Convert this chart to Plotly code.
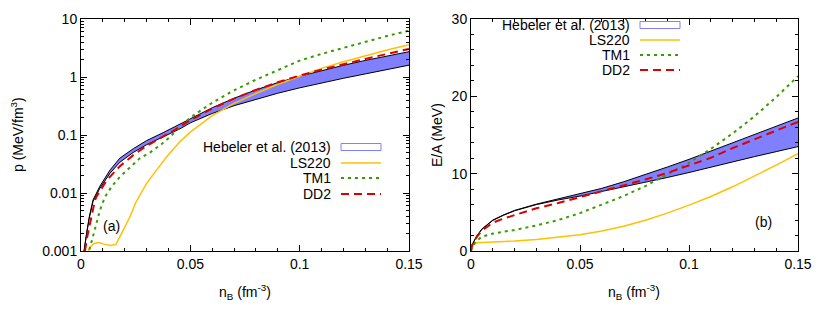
import plotly.graph_objects as go

# ---------------- data: panel (a) pressure ----------------
hb_n_p = [0.0008, 0.0014, 0.0026, 0.0038, 0.0055, 0.0087, 0.0133, 0.0178, 0.0239, 0.030, 0.0376,
          0.0453, 0.05, 0.06, 0.07, 0.08, 0.09, 0.10, 0.11, 0.12, 0.13, 0.14, 0.15]
hb_p_upper = [0.0005, 0.001, 0.0021, 0.0039, 0.0076, 0.0132, 0.025, 0.040, 0.058, 0.080, 0.110,
              0.152, 0.19, 0.295, 0.43, 0.60, 0.80, 1.03, 1.29, 1.59, 1.93, 2.31, 2.73]
hb_p_lower = [0.0005, 0.001, 0.002, 0.0037, 0.0071, 0.0122, 0.022, 0.034, 0.050, 0.068, 0.093,
              0.128, 0.162, 0.235, 0.32, 0.415, 0.525, 0.65, 0.79, 0.95, 1.13, 1.35, 1.6]

ls_n_p = [0.0025, 0.004, 0.006, 0.008, 0.011, 0.0135, 0.016, 0.018, 0.020, 0.0224, 0.025, 0.0278,
          0.030, 0.0346, 0.0392, 0.0453, 0.05, 0.06, 0.07, 0.08, 0.09, 0.10, 0.11, 0.12, 0.13, 0.14, 0.15]
ls_p = [0.0008, 0.00115, 0.00135, 0.0014, 0.0013, 0.00125, 0.0013, 0.0018, 0.0026, 0.0039, 0.0068,
        0.0105, 0.0147, 0.025, 0.042, 0.077, 0.112, 0.215, 0.35, 0.52, 0.75, 1.03, 1.41, 1.83, 2.32, 2.91, 3.6]

tm_n_p = [0.003, 0.0045, 0.0056, 0.0072, 0.0087, 0.011, 0.014, 0.0178, 0.0224, 0.027, 0.0316,
          0.0369, 0.041, 0.045, 0.05, 0.06, 0.07, 0.08, 0.09, 0.10, 0.11, 0.12, 0.13, 0.14, 0.15]
tm_p = [0.0008, 0.0013, 0.0018, 0.003, 0.0051, 0.0086, 0.0129, 0.019, 0.028, 0.040, 0.050,
        0.070, 0.095, 0.135, 0.20, 0.36, 0.59, 0.90, 1.31, 1.92, 2.5, 3.2, 4.05, 5.1, 6.3]

dd_n_p = [0.0012, 0.0018, 0.0029, 0.0041, 0.0053, 0.0064, 0.0072, 0.0117, 0.0178, 0.0239, 0.030,
          0.0361, 0.0422, 0.05, 0.06, 0.07, 0.08, 0.09, 0.10, 0.11, 0.12, 0.13, 0.14, 0.15]
dd_p = [0.0006, 0.001, 0.0018, 0.003, 0.0051, 0.0075, 0.0088, 0.0165, 0.029, 0.045, 0.065,
        0.088, 0.118, 0.18, 0.285, 0.425, 0.60, 0.81, 1.06, 1.34, 1.67, 2.05, 2.5, 3.05]

# ---------------- data: panel (b) energy per particle ----------------
ea_n = [0, 0.0005, 0.0017, 0.0025, 0.005, 0.0075, 0.01, 0.015, 0.02, 0.03, 0.04, 0.05, 0.06,
        0.07, 0.08, 0.09, 0.10, 0.11, 0.12, 0.13, 0.14, 0.15]
hb_e_upper = [0, 0.8, 1.45, 1.9, 2.85, 3.48, 4.0, 4.68, 5.25, 6.06, 6.73, 7.35, 8.1,
              8.95, 9.85, 10.85, 11.85, 12.9, 13.95, 15.0, 16.1, 17.2]
hb_e_lower = [0, 0.78, 1.42, 1.86, 2.8, 3.43, 3.95, 4.63, 5.2, 6.0, 6.6, 7.1, 7.7,
              8.25, 8.85, 9.5, 10.15, 10.85, 11.5, 12.2, 12.85, 13.5]
ls_e = [0, 0.5, 1.0, 1.06, 1.1, 1.13, 1.16, 1.22, 1.29, 1.5, 1.77, 2.1, 2.6,
        3.2, 3.98, 4.9, 5.93, 7.05, 8.3, 9.65, 11.1, 12.6]
tm_e = [0, 0.5, 1.0, 1.3, 1.85, 2.08, 2.25, 2.5, 2.72, 3.3, 4.0, 4.9, 5.95,
        7.1, 8.4, 9.85, 11.4, 13.2, 15.2, 17.4, 19.9, 22.6]
dd_e = [0, 0.75, 1.4, 1.75, 2.65, 3.2, 3.66, 4.2, 4.66, 5.52, 6.2, 6.94, 7.7,
        8.45, 9.25, 10.1, 11.05, 12.05, 13.3, 14.45, 15.55, 16.7]

x_tickvals = [0, 0.05, 0.1, 0.15]
x_ticktext = ["0", "0.05", "0.1", "0.15"]
p_tickvals = [0.001, 0.01, 0.1, 1, 10]
p_ticktext = ["0.001", "0.01", "0.1", "1", "10"]
e_tickvals = [0, 10, 20, 30]
e_ticktext = ["0", "10", "20", "30"]

legend_names = ["Hebeler et al. (2013)", "LS220", "TM1", "DD2"]

# ---------------- styles ----------------
BAND = "#8080ff"
C_LS = "#ffc000"
C_TM = "#3a9b00"
C_DD = "#dd0000"
FONT = "Liberation Sans, Arial, sans-serif"
FS = 14
OFF = 8                      # page body margin of the browser
W, H = 830 - OFF, 314 - OFF

fig = go.Figure()

def add_panel(xa, ya, n_band, up, lo, n_ls, ls, n_tm, tm, n_dd, dd):
    fig.add_trace(go.Scatter(x=n_band, y=lo, mode="lines", line=dict(color="black", width=1),
                             xaxis=xa, yaxis=ya, showlegend=False, hoverinfo="skip"))
    fig.add_trace(go.Scatter(x=n_band, y=up, mode="lines", line=dict(color="black", width=1),
                             fill="tonexty", fillcolor=BAND,
                             xaxis=xa, yaxis=ya, showlegend=False, hoverinfo="skip"))
    fig.add_trace(go.Scatter(x=n_ls, y=ls, mode="lines", line=dict(color=C_LS, width=1.5),
                             xaxis=xa, yaxis=ya, showlegend=False))
    fig.add_trace(go.Scatter(x=n_tm, y=tm, mode="lines",
                             line=dict(color=C_TM, width=2, dash="3px,4px"),
                             xaxis=xa, yaxis=ya, showlegend=False))
    fig.add_trace(go.Scatter(x=n_dd, y=dd, mode="lines",
                             line=dict(color=C_DD, width=2, dash="8px,5px"),
                             xaxis=xa, yaxis=ya, showlegend=False))

add_panel("x", "y", hb_n_p, hb_p_upper, hb_p_lower, ls_n_p, ls_p, tm_n_p, tm_p, dd_n_p, dd_p)
add_panel("x2", "y2", ea_n, hb_e_upper, hb_e_lower, ea_n, ls_e, ea_n, tm_e, ea_n, dd_e)

def px_x(px):
    return (px - OFF) / W

def px_y(py):
    return (H - (py - OFF)) / H

axis_common = dict(showline=True, linecolor="black", linewidth=1, mirror="allticks",
                   ticks="inside", ticklen=6, tickwidth=1, tickcolor="black",
                   showgrid=False, zeroline=False, automargin=False,
                   tickfont=dict(family=FONT, size=FS, color="black"))

ydom = [px_y(251), px_y(19)]
x_minor = dict(ticks="inside", ticklen=3, tickcolor="black", dtick=0.01, showgrid=False)
log_minor_vals = [d * 10 ** e for e in range(-3, 1) for d in range(2, 10)]

fig.update_layout(
    width=W, height=H, autosize=False, margin=dict(l=0, r=0, t=0, b=0, pad=0),
    paper_bgcolor="white", plot_bgcolor="white",
    font=dict(family=FONT, size=FS, color="black"),
    showlegend=False,
    xaxis=dict(domain=[px_x(81), px_x(409)], range=[0, 0.15], anchor="y",
               tickvals=x_tickvals, ticktext=x_ticktext, minor=x_minor, **axis_common),
    yaxis=dict(domain=ydom, type="log", range=[-3, 1], anchor="x",
               tickvals=p_tickvals, ticktext=p_ticktext,
               minor=dict(ticks="inside", ticklen=3, tickcolor="black",
                          tickvals=log_minor_vals, showgrid=False),
               **axis_common),
    xaxis2=dict(domain=[px_x(471), px_x(798)], range=[0, 0.15], anchor="y2",
                tickvals=x_tickvals, ticktext=x_ticktext, minor=x_minor, **axis_common),
    yaxis2=dict(domain=ydom, range=[0, 30], anchor="x2",
                tickvals=e_tickvals, ticktext=e_ticktext,
                minor=dict(ticks="inside", ticklen=3, tickcolor="black", dtick=2, showgrid=False),
                **axis_common),
)

ann = []
# axis titles
ann.append(dict(x=px_x(17), y=px_y(135), text="p (MeV/fm<sup>3</sup>)", textangle=-90))
ann.append(dict(x=px_x(437), y=px_y(135), text="E/A (MeV)", textangle=-90))
ann.append(dict(x=px_x(245), y=px_y(292), text="n<sub>B</sub> (fm<sup>-3</sup>)"))
ann.append(dict(x=px_x(634), y=px_y(292), text="n<sub>B</sub> (fm<sup>-3</sup>)"))
ann.append(dict(x=px_x(111), y=px_y(226), text="(a)"))
ann.append(dict(x=px_x(763), y=px_y(222), text="(b)"))

shapes = []

def add_legend(text_right, sample_l, sample_r, rows):
    for name, row in zip(legend_names, rows):
        ann.append(dict(x=px_x(text_right), y=px_y(row), text=name, xanchor="right"))
    # band sample
    shapes.append(dict(type="rect", xref="paper", yref="paper",
                       x0=px_x(sample_l), x1=px_x(sample_r),
                       y0=px_y(rows[0] + 3.5), y1=px_y(rows[0] - 3.5),
                       line=dict(color=BAND, width=1), fillcolor="white"))
    styles = [(C_LS, "solid", 1.5), (C_TM, "3px,4px", 2), (C_DD, "8px,5px", 2)]
    for (c, d, w), row in zip(styles, rows[1:]):
        shapes.append(dict(type="line", xref="paper", yref="paper",
                           x0=px_x(sample_l), x1=px_x(sample_r),
                           y0=px_y(row), y1=px_y(row),
                           line=dict(color=c, dash=d, width=w)))

add_legend(333, 341, 381, [147, 163, 178, 194])
add_legend(632, 640, 680, [25, 40, 55, 70])

for a in ann:
    a.update(xref="paper", yref="paper", showarrow=False,
             font=dict(family=FONT, size=FS, color="black"))
    a.setdefault("xanchor", "center")
    a.setdefault("yanchor", "middle")

fig.update_layout(annotations=ann, shapes=shapes)
fig.write_html("out.html")
